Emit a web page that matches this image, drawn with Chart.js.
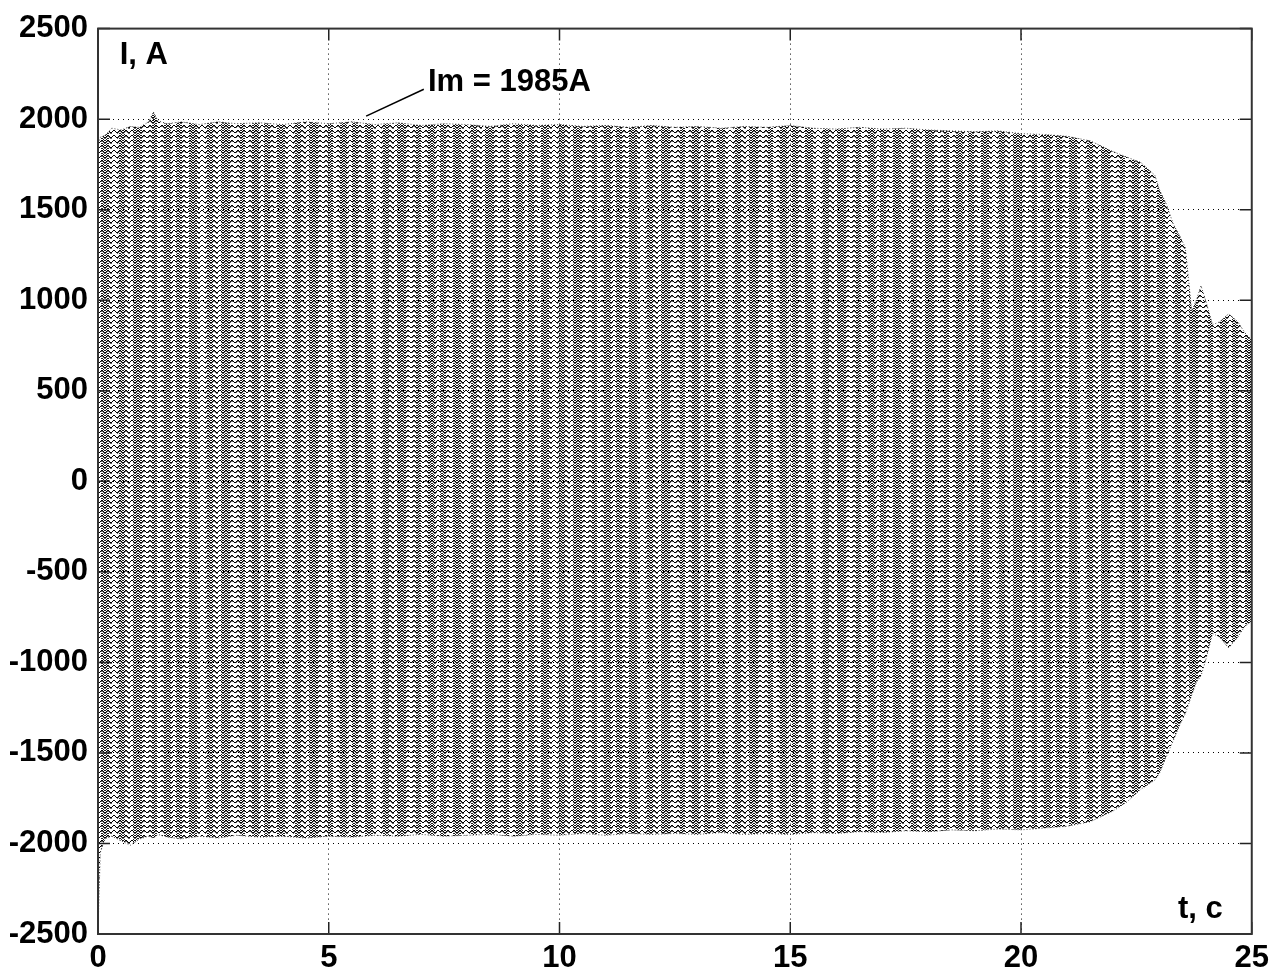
<!DOCTYPE html>
<html>
<head>
<meta charset="utf-8">
<script src="https://cdn.jsdelivr.net/npm/chart.js@4/dist/chart.umd.min.js"></script>
<style>
  html, body { margin: 0; padding: 0; background: #fff; }
  #wrap { width: 1275px; height: 973px; }
</style>
</head>
<body>
<div id="wrap"><canvas id="currentChart" width="1275" height="973"></canvas></div>
<script>
// time axis, s (envelope sample points)
const timePoints = [0, 0.05, 0.15, 0.3, 0.5, 0.7, 0.9, 1.1, 1.2, 1.3, 1.5, 1.8, 2.2, 2.6, 3.0, 3.5,
  4.0, 4.5, 5.0, 5.5, 6.0, 6.5, 7.0, 7.5, 8.0, 8.5, 9.0, 9.5, 10.0, 10.5, 11.0, 11.5, 12.0, 12.5,
  13.0, 13.5, 14.0, 14.5, 15.0, 15.5, 16.0, 16.5, 17.0, 17.5, 18.0, 18.5, 19.0, 19.5, 20.0, 20.5,
  21.0, 21.5, 22.0, 22.3, 22.6, 22.9, 23.0, 23.15, 23.3, 23.45, 23.56, 23.7, 23.8, 23.9, 24.0,
  24.15, 24.3, 24.5, 24.7, 24.85, 25.0];

// upper envelope of the current, A
const upperPeaks = [1850, 1900, 1910, 1950, 1940, 1960, 1955, 1985, 2040, 1990, 1975, 1985, 1970, 1985, 1975, 1980,
  1970, 1985, 1975, 1985, 1970, 1980, 1965, 1975, 1970, 1960, 1975, 1965, 1970, 1960, 1965, 1955, 1965, 1955,
  1960, 1950, 1960, 1955, 1965, 1950, 1945, 1955, 1945, 1950, 1940, 1935, 1930, 1935, 1920, 1915,
  1905, 1880, 1820, 1790, 1760, 1690, 1610, 1530, 1420, 1350, 1290, 940, 1000, 1080, 1000,
  865, 880, 925, 880, 820, 780];

// lower envelope of the current, A
const lowerPeaks = [-2480, -2050, -1975, -1960, -1985, -2010, -1975, -1960, -1970, -1950, -1965, -1975, -1960, -1970, -1955, -1965,
  -1960, -1970, -1960, -1965, -1955, -1960, -1950, -1960, -1955, -1950, -1960, -1950, -1955, -1945, -1955, -1945, -1950, -1945,
  -1950, -1940, -1950, -1945, -1950, -1940, -1945, -1935, -1940, -1930, -1935, -1925, -1930, -1920, -1925, -1915,
  -1905, -1880, -1820, -1770, -1700, -1650, -1612, -1520, -1431, -1340, -1283, -1180, -1110, -1074, -990,
  -840, -860, -920, -860, -800, -772];

const xTicks = [0, 5, 10, 15, 20, 25];
const yTicks = [-2500, -2000, -1500, -1000, -500, 0, 500, 1000, 1500, 2000, 2500];

const FONT = 'Liberation Sans, Arial, sans-serif';

// dotted oscillation texture with vertical bands
function makeTexture() {
  const bands = 'ddddddmmmmlllddddddddmmmlllllmmddddddmmmmmllldddddddddmmmlllmmmmdddddllllmmmdddddddmmlll';
  const wave = [1, 0, 0, 1, 2, 2];
  const tile = document.createElement('canvas');
  tile.width = bands.length;
  tile.height = 5;
  const p = tile.getContext('2d');
  for (let c = 0; c < bands.length; c++) {
    const w = wave[c % 6];
    p.fillStyle = '#000';
    p.fillRect(c, w, 1, 1);
    if (bands[c] !== 'l') {
      p.fillStyle = '#666';
      p.fillRect(c, w + 1, 1, 1);
    }
    if (bands[c] === 'd') {
      p.fillStyle = '#1a1a1a';
      p.fillRect(c, (w + 3) % 5, 1, 1);
    }
  }
  return document.createElement('canvas').getContext('2d').createPattern(tile, 'repeat');
}

const frameAndLabels = {
  id: 'frameAndLabels',
  afterDraw(chart) {
    const { ctx, chartArea: a, scales: { x, y } } = chart;
    ctx.save();
    // inward ticks
    ctx.strokeStyle = '#222';
    ctx.lineWidth = 1.5;
    ctx.beginPath();
    xTicks.forEach((v) => {
      const px = x.getPixelForValue(v);
      ctx.moveTo(px, a.bottom); ctx.lineTo(px, a.bottom - 12);
      ctx.moveTo(px, a.top); ctx.lineTo(px, a.top + 12);
    });
    yTicks.forEach((v) => {
      const py = y.getPixelForValue(v);
      ctx.moveTo(a.left, py); ctx.lineTo(a.left + 12, py);
      ctx.moveTo(a.right, py); ctx.lineTo(a.right - 12, py);
    });
    ctx.stroke();
    // box
    ctx.strokeStyle = '#333';
    ctx.lineWidth = 2;
    ctx.strokeRect(a.left, a.top, a.right - a.left, a.bottom - a.top);

    // texts
    ctx.fillStyle = '#000';
    ctx.font = 'bold 31px ' + FONT;
    ctx.textBaseline = 'middle';
    ctx.textAlign = 'left';
    ctx.fillText('I, A', x.getPixelForValue(0.47), y.getPixelForValue(2350));
    ctx.fillText('t, c', x.getPixelForValue(23.4), y.getPixelForValue(-2365));
    ctx.fillText('Im = 1985A', x.getPixelForValue(7.15), y.getPixelForValue(2200));

    // leader line to the peak
    ctx.strokeStyle = '#000';
    ctx.lineWidth = 1.5;
    ctx.beginPath();
    ctx.moveTo(x.getPixelForValue(5.81), y.getPixelForValue(2017));
    ctx.lineTo(x.getPixelForValue(7.06), y.getPixelForValue(2165));
    ctx.stroke();
    ctx.restore();
  },
};

const ctx = document.getElementById('currentChart').getContext('2d');
const texture = makeTexture();

new Chart(ctx, {
  type: 'line',
  data: {
    datasets: [
      {
        label: 'upper',
        data: timePoints.map((t, i) => ({ x: t, y: upperPeaks[i] })),
        borderColor: 'rgba(30,30,30,0.8)',
        borderWidth: 1,
        borderDash: [1, 2],
        pointRadius: 0,
        tension: 0,
        fill: '+1',
        backgroundColor: texture,
      },
      {
        label: 'lower',
        data: timePoints.map((t, i) => ({ x: t, y: lowerPeaks[i] })),
        borderColor: 'rgba(30,30,30,0.8)',
        borderWidth: 1,
        borderDash: [1, 2],
        pointRadius: 0,
        tension: 0,
        fill: false,
      },
    ],
  },
  options: {
    responsive: false,
    animation: false,
    layout: { padding: { top: 25, right: 19, left: 0, bottom: 0 } },
    plugins: {
      legend: { display: false },
      tooltip: { enabled: false },
    },
    scales: {
      x: {
        type: 'linear',
        min: 0,
        max: 25,
        ticks: {
          stepSize: 5,
          color: '#000',
          padding: 6,
          maxRotation: 0,
          callback: (v) => String(v),
          font: { family: FONT, size: 31, weight: 'bold' },
        },
        grid: { color: '#000', lineWidth: 1, drawTicks: false },
        border: { display: false, dash: [1, 4] },
        afterFit: (scale) => { scale.height = 39; },
      },
      y: {
        min: -2500,
        max: 2500,
        ticks: {
          stepSize: 500,
          color: '#000',
          padding: 10,
          callback: (v) => String(v),
          font: { family: FONT, size: 31, weight: 'bold' },
        },
        grid: { color: '#000', lineWidth: 1, drawTicks: false },
        border: { display: false, dash: [1, 4] },
        afterFit: (scale) => { scale.width = 98; },
      },
    },
  },
  plugins: [frameAndLabels],
});
</script>
</body>
</html>
